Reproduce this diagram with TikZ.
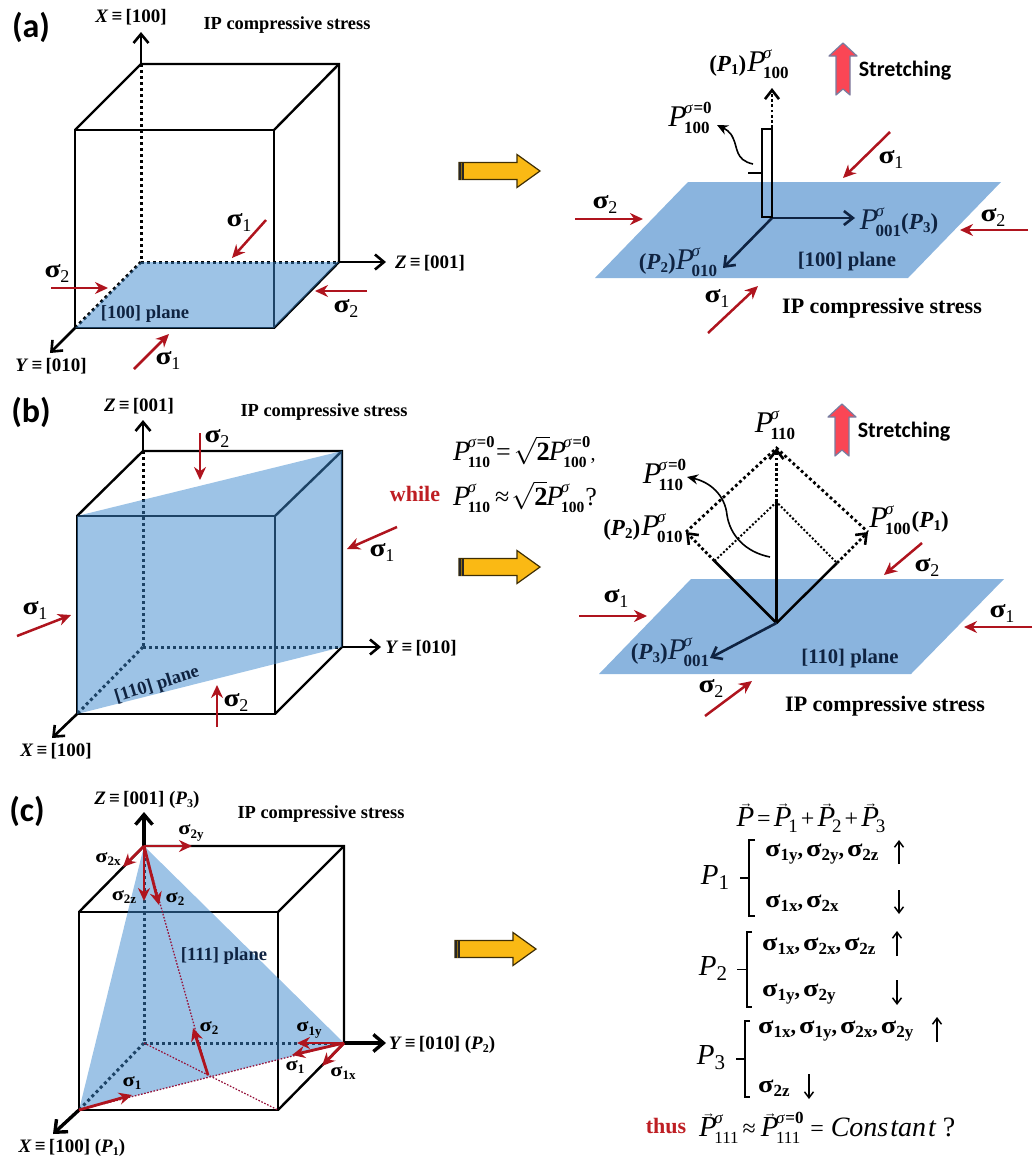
\documentclass[tikz,border=0pt]{standalone}
\usepackage{fontspec}
\setmainfont{Liberation Serif}
\newfontfamily\labfont{Carlito}
\usetikzlibrary{arrows.meta,calc}
\definecolor{sred}{RGB}{175,20,30}
\definecolor{tred}{RGB}{190,30,35}
\definecolor{cubeblue}{RGB}{59,135,205}
\definecolor{flatblue}{RGB}{21,105,189}
\definecolor{dotred}{RGB}{150,20,60}
\definecolor{navy}{RGB}{15,35,65}
\definecolor{goldfill}{RGB}{250,185,20}
\definecolor{stretchred}{RGB}{250,70,85}
\definecolor{stretchedge}{RGB}{120,125,160}
\newcommand\fsz[1]{\fontsize{#1}{#1}\selectfont}
% sigma with subscript
\newcommand\sgm{\scalebox{1.18}[1]{σ}}
\newcommand\sg[1]{{\fsz{25}\bfseries\sgm\kern-.5pt\raisebox{-5pt}{\fsz{18}\mdseries #1}}}
\newcommand\sgs[1]{{\fsz{19}\bfseries\sgm\raisebox{-3.5pt}{\fsz{13}#1}}}
\newcommand\sgl[1]{{\fsz{24}\bfseries\sgm\raisebox{-4pt}{\fsz{17}#1}}}
\newcommand\cmm{{\fsz{22}\bfseries,}\kern3pt}
% P with stacked super/subscript
\newcommand\supsub[2]{\rlap{\raisebox{13pt}{\fsz{17}#1}}\raisebox{-7pt}{\fsz{17}\bfseries #2}}
\newcommand\Pz[1]{{\fsz{30}\itshape P}\kern-2.5pt\supsub{\itshape σ}{#1}}
\newcommand\Pzz[1]{{\fsz{30}\itshape P}\kern-2.5pt\supsub{{\itshape σ}\kern1pt\bfseries =0}{#1}}
% smaller forms for the two equations of panel (b)
\newcommand\supsubE[2]{\rlap{\raisebox{13pt}{\fsz{16.5}#1}}\raisebox{-7pt}{\fsz{15.5}\bfseries #2}}
\newcommand\PzE[1]{{\fsz{28}\itshape P}\kern-2.5pt\supsubE{\itshape σ}{#1}}
\newcommand\PzzE[1]{{\fsz{28}\itshape P}\kern-2.5pt\supsubE{{\itshape σ}\kern1pt\bfseries =0}{#1}}
\newcommand\Pb[1]{{\fsz{23}\bfseries(\textit{P}\raisebox{-3.5pt}{\fsz{15}#1})}}
\newcommand\Pn[1]{{\fsz{29}\itshape P}\raisebox{-5pt}{\fsz{21}#1}}
\newcommand\vP{\rlap{\raisebox{19pt}{\fsz{13}\kern3pt→}}{\fsz{29}\itshape P}}
\newcommand\vPi[1]{\vP\kern-3pt\raisebox{-6pt}{\fsz{19}#1}}
\newcommand\axlab[2]{{\fsz{19}\bfseries\textit{#1}\,≡\,[#2]}}
\newcommand\rootwo{\scalebox{1.1}{\fsz{24}$\sqrt{\mbox{\fsz{24}\bfseries 2}}$}}
\newcommand\rar[3]{\coordinate (#1s) at (#2);\coordinate (#1e) at (#3);\draw[redarrow] (#1s) -- (#1e);}
\tikzset{
  every node/.style={inner sep=0pt},
  cubeline/.style={line width=2.4pt,line join=miter,black},
  dotline/.style={line width=3pt,dash pattern=on 3pt off 3pt,black},
  axisarrow/.style={line width=2.6pt,-{Straight Barb[length=9pt,width=15pt,line width=2.6pt]},black},
  axisthick/.style={line width=3.4pt,-{Straight Barb[length=10pt,width=17pt,line width=3.4pt]},black},
  redarrow/.style={line width=2.5pt,sred,-{Stealth[length=13pt,width=12pt]}},
  redthick/.style={line width=2.8pt,sred,-{Stealth[length=13pt,width=12pt]}},
  dottedred/.style={line width=1.3pt,dotred,dash pattern=on 1.6pt off 1.6pt},
  cubeplane/.style={fill=cubeblue,fill opacity=.5,draw=none},
  flatplane/.style={fill=flatblue,fill opacity=.5,draw=none},
  blockarrow/.style={fill=goldfill,draw=black!75!goldfill,line width=1.2pt},
  stretcharrow/.style={fill=stretchred,draw=stretchedge,line width=1.2pt},
  titletext/.style={font=\fsz{18.4}\bfseries},
  bigtext/.style={font=\fsz{22}\bfseries},
  planetext/.style={font=\fsz{18.6}\bfseries,text=navy},
  planebig/.style={font=\fsz{20.7}\bfseries,text=navy},
  panel/.style={font=\labfont\fsz{34}\bfseries},
  stretchtext/.style={font=\labfont\fsz{22}\bfseries},
  vecarrow/.style={line width=1.5pt,black,-{Straight Barb[length=6pt,width=9pt,line width=1.5pt]}},
  bracketline/.style={line width=1.5pt,black},
  polarr/.style={line width=2.6pt,-{Straight Barb[length=9pt,width=14pt,line width=2.6pt]},navy},
  dotarrow/.style={line width=2.8pt,dash pattern=on 2.8pt off 2.4pt,-{Straight Barb[length=9pt,width=14pt,line width=2.6pt]}},
  thincurve/.style={line width=1.6pt,-{Stealth[length=11pt,width=10pt]}},
}
\newcommand\cube[9]{% prefix, front x1,x2,y1,y2, back x1,x2,y1,y2
 \coordinate (#1ftl) at (#2,#4);\coordinate (#1ftr) at (#3,#4);\coordinate (#1fbr) at (#3,#5);\coordinate (#1fbl) at (#2,#5);
 \coordinate (#1btl) at (#6,#8);\coordinate (#1btr) at (#7,#8);\coordinate (#1bbr) at (#7,#9);\coordinate (#1bbl) at (#6,#9);
 \draw[cubeline] (#1ftl) -- (#1ftr) -- (#1fbr) -- (#1fbl) -- cycle;
 \draw[cubeline] (#1ftl) -- (#1btl) -- (#1btr) -- (#1bbr) -- (#1fbr);
 \draw[cubeline] (#1ftr) -- (#1btr);
 \draw[dotline] (#1btl) -- (#1bbl);
 \draw[dotline] (#1bbl) -- (#1bbr);
 \draw[dotline] (#1bbl) -- (#1fbl);
}
\newcommand\blockarr[2]{% left x, centre y
 \coordinate (ba) at (#1,#2);
 \draw[blockarrow] ($(ba)+(0,-8.5)$) -- ++(58,0) -- ++(0,-8) -- ++(23,16.5) -- ++(-23,16.5) -- ++(0,-8) -- ++(-58,0) -- cycle;
 \fill[black!85] ($(ba)+(0,-8.5)$) rectangle ++(5,17);
 \fill[goldfill!60!black] ($(ba)+(2.2,-8.5)$) rectangle ++(1,17);
}
\newcommand\strarrow[2]{% centre x, tip y
 \coordinate (sa) at (#1,#2);
 \draw[stretcharrow,line join=round] (sa) -- ++(14,13) -- ++(-7,0) -- ++(0,39) -- ++(-7,-6) -- ++(-7,6) -- ++(0,-39) -- ++(-7,0) -- cycle;
}
\newcommand\brk[6]{% prefix, x, top, bottom, right, tick
 \coordinate (#1a) at (#5,#3);\coordinate (#1b) at (#2,#3);\coordinate (#1c) at (#2,#4);\coordinate (#1d) at (#5,#4);
 \coordinate (#1m) at (#2,{(#3+#4)/2});\coordinate (#1t) at (#6,{(#3+#4)/2});
 \draw[bracketline] (#1a) -- (#1b) -- (#1c) -- (#1d);\draw[bracketline] (#1m) -- (#1t);}
\begin{document}
\begin{tikzpicture}[x=1pt,y=-1pt]
\useasboundingbox (0,0) rectangle (1036,1165);
%%%%%%%%%%%% (a) left
\cube{a}{75}{274}{130}{328}{141}{339}{64}{262}
\coordinate (aXt) at (141,32);\coordinate (aZt) at (386,262);\coordinate (aYt) at (50,353);
\draw[axisarrow] (abtl) -- (aXt);
\draw[axisarrow] (abbr) -- (aZt);
\draw[axisarrow] (afbl) -- (aYt);
\path[cubeplane] (abbl) -- (abbr) -- (afbr) -- (afbl) -- cycle;
\node[planetext] (ap) at (145,314) {[100] plane};
\node[panel] (apa) at (31,27) {(a)};
\node (axx) at (131,17) {\axlab{X}{100}};
\node[titletext] (ait) at (287,25.5) {IP compressive stress};
\node (azz) at (430,263) {\axlab{Z}{001}};
\node (ayy) at (51,366) {\axlab{Y}{010}};
\node (as1) at (239,222) {\sg{1}};
\node (as2) at (57,273) {\sg{2}};
\node (as3) at (346,308) {\sg{2}};
\node (as4) at (168,360) {\sg{1}};
\rar{ar1}{266,220}{232,258}
\rar{ar2}{51,288}{108,288}
\rar{ar3}{367,291}{315,291}
\rar{ar4}{134,369}{169,334}
\blockarr{459}{171}
%%%%%%%%%%%% (a) right
\coordinate (afa) at (688,182);\coordinate (afb) at (1001,182);\coordinate (afc) at (908,278);\coordinate (afd) at (595,278);
\path[flatplane] (afa) -- (afb) -- (afc) -- (afd) -- cycle;
\coordinate (ao) at (772,218);
\coordinate (av) at (772,128);\coordinate (avt) at (772,88);
\coordinate (azt) at (855,218);\coordinate (ayt) at (723,268);
\draw[polarr] (ao) -- (azt);
\draw[polarr] (ao) -- (ayt);
\draw[line width=2.6pt,black] (ao) -- (av);
\draw[dotarrow] (av) -- (avt);
\coordinate (abr1) at (772,129);\coordinate (abr2) at (762,129);\coordinate (abr3) at (762,217);\coordinate (abr4) at (772,217);
\coordinate (abm) at (762,173);\coordinate (abt) at (748,173);
\draw[bracketline] (abr1) -- (abr2) -- (abr3) -- (abr4);
\draw[bracketline] (abm) -- (abt);
\coordinate (acs) at (753,164);\coordinate (ace) at (717,125);
\draw[thincurve] (acs) .. controls (735,160) and (738,148) .. (733,138) .. controls (730,131) and (725,129) .. (ace);
\node[text=navy] (ap3) at (899,222) {\Pz{001}\Pb{3}};
\node[text=navy] (ap2) at (678,262) {\Pb{2}\Pz{010}};
\node[planebig] (ap4) at (847,262) {[100] plane};
\node (ap1) at (749,64) {\Pb{1}\kern1pt\Pz{100}};
\node (ap0) at (689,118) {\Pzz{100}};
\strarrow{843}{43}
\node[stretchtext] (ast) at (905,71) {Stretching};
\node[bigtext] (ait2) at (882,308) {IP compressive stress};
\node (bs1) at (891,159) {\sg{1}};
\node (bs2) at (605,204) {\sg{2}};
\node (bs3) at (993,217) {\sg{2}};
\node (bs4) at (717,298) {\sg{1}};
\rar{br1}{890,132}{843,178}
\rar{br2}{575,219}{643,219}
\rar{br3}{1028,230}{960,230}
\rar{br4}{708,333}{758,286}
%%%%%%%%%%%% (b) left
\cube{b}{77}{275}{516}{714}{143}{342}{451}{647}
\coordinate (bZt) at (143,420);\coordinate (bYt) at (381,647);\coordinate (bXt) at (52,738);
\draw[axisarrow] (bbtl) -- (bZt);
\draw[axisarrow] (bbbr) -- (bYt);
\draw[axisarrow] (bfbl) -- (bXt);
\path[cubeplane] (bftl) -- (bbtr) -- (bbbr) -- (bfbl) -- cycle;
\node[planetext,rotate=17] (bpl) at (157,685) {[110] plane};
\node[panel] (bpa) at (31,412) {(b)};
\node (bzz) at (139,406) {\axlab{Z}{001}};
\node[titletext] (bit) at (324,412.5) {IP compressive stress};
\node (byy) at (421,648) {\axlab{Y}{010}};
\node (bxx) at (56,751) {\axlab{X}{100}};
\node (cs1) at (217,438) {\sg{2}};
\node (cs2) at (382,552) {\sg{1}};
\node (cs3) at (35,610) {\sg{1}};
\node (cs4) at (236,702) {\sg{2}};
\rar{cr1}{200,433}{200,480}
\rar{cr2}{397,527}{347,549}
\rar{cr3}{17,636}{71,615}
\rar{cr4}{217,727}{217,685}
% equations
\node[anchor=west] (beq1) at (453,452) {\PzzE{110}\kern6pt{\fsz{26}=}\kern3pt\rootwo\kern-1pt\PzzE{100}\kern4pt{\fsz{20},}};
\node[anchor=west] (beq2) at (453,497) {\PzE{110}\kern5pt{\fsz{26}≈}\kern2pt\rootwo\kern-1pt\PzE{100}\kern1pt{\fsz{26}?}};
\node[font=\fsz{22}\bfseries,text=tred] (bwh) at (415,494) {while};
\blockarr{459}{567}
%%%%%%%%%%%% (b) right
\coordinate (bfa) at (691,579);\coordinate (bfb) at (1004,579);\coordinate (bfc) at (911,674);\coordinate (bfd) at (599,674);
\path[flatplane] (bfa) -- (bfb) -- (bfc) -- (bfd) -- cycle;
\coordinate (bo) at (776.5,623);
\coordinate (btop) at (776.5,502);\coordinate (bttip) at (776.5,448);
\coordinate (bl) at (714.5,561);\coordinate (br) at (837,563);
\coordinate (bltip) at (686,532);\coordinate (brtip) at (868,532);
\coordinate (bdn) at (710,658);
\draw[line width=2.8pt] (bo) -- (btop);
\draw[line width=2.5pt] (bo) -- (bl);
\draw[line width=2.5pt] (bo) -- (br);
\draw[polarr] (bo) -- (bdn);
\draw[line width=2pt,dash pattern=on 2pt off 2pt] (bl) -- (btop) -- (br);
\draw[line width=2.8pt,dash pattern=on 2.8pt off 2.8pt] (bltip) -- (bttip) -- (brtip);
\draw[dotarrow] (btop) -- (bttip);
\draw[dotarrow] (bl) -- (bltip);
\draw[dotarrow] (br) -- (brtip);
\coordinate (bcs) at (770,557);\coordinate (bce) at (687,477);
\draw[thincurve] (bcs) .. controls (745,552) and (730,535) .. (727,515) .. controls (725,495) and (710,482) .. (bce);
\node[text=navy] (bp3) at (670,652) {\Pb{3}\Pz{001}};
\node[planebig] (bp4) at (850,659) {[110] plane};
\node (bp0) at (775,425) {\Pz{110}};
\node (bp1) at (663,475) {\Pzz{110}};
\node (bp2) at (643,528) {\Pb{2}\kern1pt\Pz{010}};
\node (bp5) at (909,520) {\Pz{100}\kern1pt\Pb{1}};
\strarrow{842}{404}
\node[stretchtext] (bst) at (904,432) {Stretching};
\node[bigtext] (bit2) at (885,706) {IP compressive stress};
\node (ds1) at (927,567) {\sg{2}};
\node (ds2) at (616,598) {\sg{1}};
\node (ds3) at (1002,613) {\sg{1}};
\node (ds4) at (711,688) {\sg{2}};
\rar{dr1}{922,543}{884,575}
\rar{dr2}{579,616}{647,616}
\rar{dr3}{1032,627}{964,627}
\rar{dr4}{705,716}{752,681}
%%%%%%%%%%%% (c) left
\cube{c}{79}{278}{912}{1110}{144}{344}{846}{1043}
\coordinate (cZt) at (144,812);\coordinate (cYt) at (386,1043);\coordinate (cXt) at (53,1134);
\coordinate (cmid) at (208,1075);
\draw[axisthick] (cbtl) -- (cZt);
\draw[axisthick] (cbbr) -- (cYt);
\draw[axisthick] (cfbl) -- (cXt);
\path[cubeplane] (cbtl) -- (cbbr) -- (cfbl) -- cycle;
\node[planetext] (cpl) at (224,956) {[111] plane};
\draw[dottedred] (cbtl) -- (cmid);
\draw[dottedred] (cfbl) -- (cbbr);
\draw[dottedred] (cbbl) -- (cfbr);
\node[panel] (cpa) at (27,811) {(c)};
\node (czz) at (147,800) {{\fsz{19}\bfseries\textit{Z}\,≡\,[001] (\textit{P}\raisebox{-3pt}{\fsz{12}3})}};
\node[titletext] (cit) at (321,814.5) {IP compressive stress};
\node (cyy) at (442,1045) {{\fsz{19}\bfseries\textit{Y}\,≡\,[010] (\textit{P}\raisebox{-3pt}{\fsz{12}2})}};
\node (cxx) at (72,1148) {{\fsz{19}\bfseries\textit{X}\,≡\,[100] (\textit{P}\raisebox{-3pt}{\fsz{12}1})}};
\node (e1) at (191,833) {\sgs{2y}};
\node (e2) at (108,859) {\sgs{2x}};
\node (e3) at (124,897) {\sgs{2z}};
\node (e4) at (175,899) {\sgs{2}};
\node (e5) at (209,1028) {\sgs{2}};
\node (e6) at (309,1030) {\sgs{1y}};
\node (e7) at (295,1067) {\sgs{1}};
\node (e8) at (343,1073) {\sgs{1x}};
\node (e9) at (132,1083) {\sgs{1}};
\coordinate (f1) at (192,846);\coordinate (f2) at (123,867);\coordinate (f3) at (144,901);\coordinate (f4) at (159,905);
\coordinate (f5) at (193,1028);\coordinate (f6) at (297,1043);\coordinate (f7) at (292,1055);\coordinate (f8) at (322,1066);\coordinate (f9) at (132,1095);
\draw[redthick] (cbtl) -- (f1);
\draw[redthick] (cbtl) -- (f2);
\draw[redthick] (cbtl) -- (f3);
\draw[redthick] (cbtl) -- (f4);
\draw[redthick] (cmid) -- (f5);
\draw[redthick] (cbbr) -- (f6);
\draw[redthick] (cbbr) -- (f7);
\draw[redthick] (cbbr) -- (f8);
\draw[redthick] (cfbl) -- (f9);
\blockarr{455}{949}
%%%%%%%%%%%% (c) right
\node (g0) at (811,818) {\vP\kern3pt{\fsz{24}=}\kern3pt\vPi{1}\kern3pt{\fsz{24}+}\kern3pt\vPi{2}\kern3pt{\fsz{24}+}\kern3pt\vPi{3}};
\node (gP1) at (715,877) {\Pn{1}};
\node (gP2) at (713,968) {\Pn{2}};
\node (gP3) at (711,1058) {\Pn{3}};
\brk{k1}{749}{840}{916}{755}{740}
\brk{k2}{747}{932}{1007}{752}{737}
\brk{k3}{745}{1021}{1097}{750}{736}
\node[anchor=west] (h1) at (765,854) {\sgl{1y}\cmm\sgl{2y}\cmm\sgl{2z}};
\node[anchor=west] (h2) at (765,903) {\sgl{1x}\cmm\sgl{2x}};
\node[anchor=west] (h3) at (762,946) {\sgl{1x}\cmm\sgl{2x}\cmm\sgl{2z}};
\node[anchor=west] (h4) at (762,994) {\sgl{1y}\cmm\sgl{2y}};
\node[anchor=west] (h5) at (758,1031) {\sgl{1x}\cmm\sgl{1y}\cmm\sgl{2x}\cmm\sgl{2y}};
\node[anchor=west] (h6) at (758,1088) {\sgl{2z}};
\coordinate (v1a) at (899,864);\coordinate (v1b) at (899,840);\draw[vecarrow] (v1a) -- (v1b);
\coordinate (v2a) at (899,890);\coordinate (v2b) at (899,914);\draw[vecarrow] (v2a) -- (v2b);
\coordinate (v3a) at (897,956);\coordinate (v3b) at (897,931);\draw[vecarrow] (v3a) -- (v3b);
\coordinate (v4a) at (897,980);\coordinate (v4b) at (897,1005);\draw[vecarrow] (v4a) -- (v4b);
\coordinate (v5a) at (937,1042);\coordinate (v5b) at (937,1017);\draw[vecarrow] (v5a) -- (v5b);
\coordinate (v6a) at (809,1074);\coordinate (v6b) at (809,1099);\draw[vecarrow] (v6a) -- (v6b);
\node[font=\fsz{22}\bfseries,text=tred] (gth) at (666,1126) {thus};
\node[anchor=west] (geq) at (699,1128) {\vP\kern-2.5pt\supsub{\itshape σ}{\mdseries 111}\kern4pt{\fsz{24}≈}\kern5pt\vP\kern-2.5pt\supsub{{\itshape σ}\kern1pt\bfseries =0}{\mdseries 111}\kern10pt{\fsz{24}=}\kern7pt{\fsz{28}\itshape Cons\kern2pt tan\kern2pt t\kern7pt\upshape ?}};
\end{tikzpicture}
\end{document}
